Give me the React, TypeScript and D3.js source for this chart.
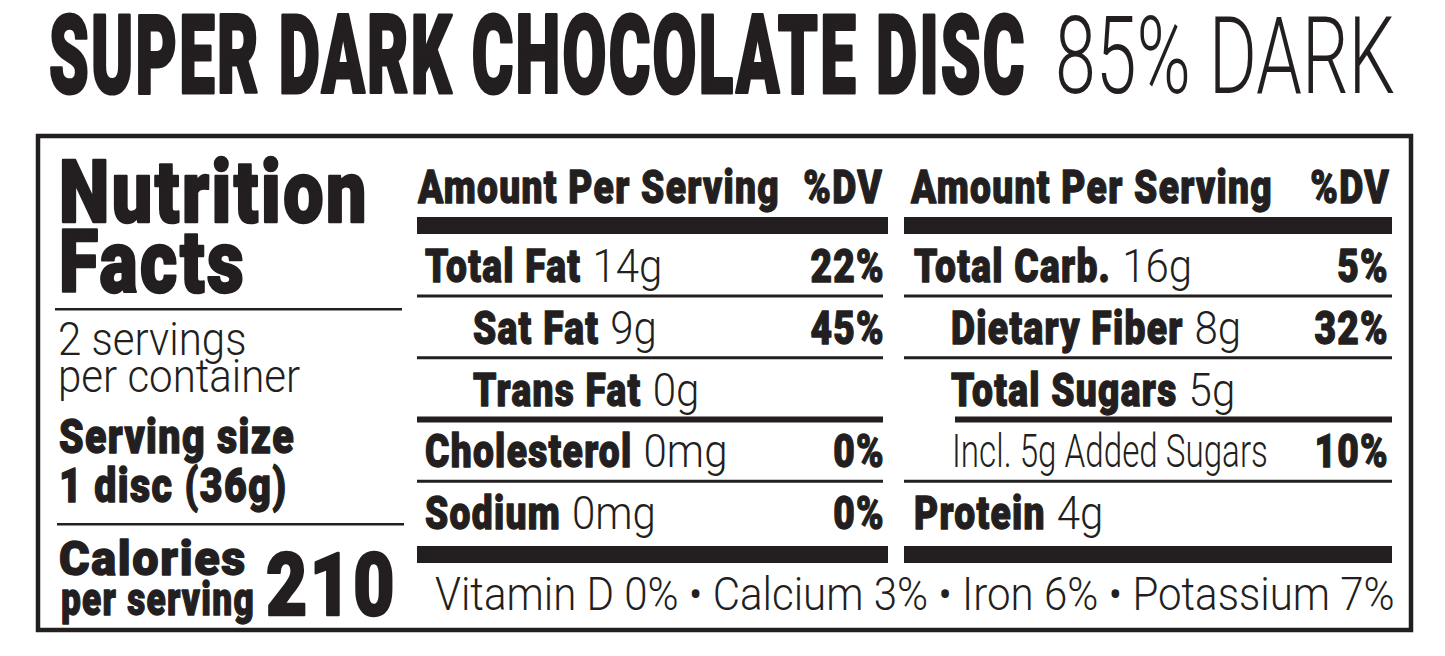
import React, { useEffect, useRef } from "react";
import * as d3 from "d3";

// label values
const titleBold = "SUPER DARK CHOCOLATE DISC";
const titleLight = "85% DARK";
const servingsPer = ["2 servings", "per container"];
const servingSize = ["Serving size", "1 disc (36g)"];
const calories = "210";
const headers = ["Amount Per Serving", "%DV"];

const leftNames = ["Total Fat", "Sat Fat", "Trans Fat", "Cholesterol", "Sodium"];
const leftAmounts = ["14g", "9g", "0g", "0mg", "0mg"];
const leftDV = ["22%", "45%", "", "0%", "0%"];
const leftSub = [false, true, true, false, false];

const rightNames = ["Total Carb.", "Dietary Fiber", "Total Sugars", "Incl. 5g Added Sugars", "Protein"];
const rightAmounts = ["16g", "8g", "5g", "", "4g"];
const rightDV = ["5%", "32%", "", "10%", ""];
const rightSub = [false, true, true, true, false];
const rightPlain = [false, false, false, true, false];

const vitamins = ["Vitamin D", "Calcium", "Iron", "Potassium"];
const vitaminDV = ["0%", "3%", "6%", "7%"];

const INK = "#231f20";
const FONT = "Roboto, 'Liberation Sans', Arial, sans-serif";

const App: React.FC = () => {
  const ref = useRef<SVGSVGElement | null>(null);

  useEffect(() => {
    document.body.style.margin = "0";

    const draw = () => {
      const svg = d3.select(ref.current);
      svg.selectAll("*").remove();
      const g = svg.append("g");

      const spacing = (size: number, weight: number) => (weight >= 700 ? size * 0.035 : 0);

      const measure = (text: string, size: number, weight: number) => {
        const t = g
          .append("text")
          .attr("font-family", FONT)
          .attr("font-size", size)
          .attr("font-weight", weight)
          .attr("letter-spacing", spacing(size, weight))
          .text(text);
        const w = (t.node() as SVGTextElement).getComputedTextLength();
        t.remove();
        return w;
      };

      // heavy text gets a thin outline so it reads as a black weight
      const put = (
        text: string,
        x: number,
        y: number,
        size: number,
        weight: number,
        sx: number,
        anchor = "start",
        sy = 1
      ) => {
        const t = g
          .append("text")
          .attr("transform", `translate(${x},${y}) scale(${sx},${sy})`)
          .attr("font-family", FONT)
          .attr("font-size", size)
          .attr("font-weight", weight)
          .attr("letter-spacing", spacing(size, weight))
          .attr("text-anchor", anchor)
          .attr("fill", INK)
          .text(text);
        if (weight >= 700) {
          t.attr("stroke", INK).attr("stroke-width", size * 0.028).attr("stroke-linejoin", "round");
        }
        return (t.node() as SVGTextElement).getComputedTextLength() * sx;
      };

      const bar = (x0: number, x1: number, y: number, h: number) =>
        g.append("rect").attr("x", x0).attr("y", y).attr("width", x1 - x0).attr("height", h).attr("fill", INK);

      // condensing factors, fitted on one string of each style
      const vitText = vitamins.map((v, i) => `${v} ${vitaminDV[i]}`).join(" • ");
      const sxBold = 362 / measure(headers[0], 46, 900);
      const sxLight = 960 / measure(vitText, 46, 300);

      // title
      put(titleBold, 49, 93, 100, 900, 978 / measure(titleBold, 100, 900), "start", 1.1);
      put(titleLight, 1055, 93, 100, 300, 340 / measure(titleLight, 100, 300), "start", 1.07);

      // outer box
      g.append("rect")
        .attr("x", 38)
        .attr("y", 136)
        .attr("width", 1373)
        .attr("height", 494)
        .attr("fill", "none")
        .attr("stroke", INK)
        .attr("stroke-width", 4.5);

      // left panel
      const sxNF = 310 / measure("Nutrition", 87, 900);
      put("Nutrition", 59, 222, 87, 900, sxNF);
      put("Facts", 59, 292, 87, 900, sxNF);
      bar(55, 402, 308, 2.5);
      put(servingsPer[0], 58, 355, 46, 300, sxLight);
      put(servingsPer[1], 58, 392, 46, 300, sxLight);
      const sxSS = 236 / measure(servingSize[0], 49, 900);
      put(servingSize[0], 59, 453, 49, 900, sxSS);
      put(servingSize[1], 59, 502, 49, 900, sxSS);
      bar(57, 404, 523, 2.5);
      put("Calories", 59, 575, 49, 900, 188 / measure("Calories", 49, 900));
      put("per serving", 61, 615, 46, 900, 194 / measure("per serving", 46, 900));
      put(calories, 397, 615, 87, 900, 131 / measure(calories, 87, 900), "end");

      // nutrient columns
      const yRow = d3.scaleLinear().domain([0, 4]).range([282, 529]);
      const sxIncl = 316 / measure(rightNames[3], 46, 300);
      const cols = [
        {
          x0: 417, x1: 888, ruleEnd: 883, headX: 418, headDvX: 883,
          labelX: 425, subX: 473, dvX: 885, midRule: 2, midRuleX: 417,
          names: leftNames, amounts: leftAmounts, dv: leftDV, sub: leftSub,
          plain: leftNames.map(() => false),
        },
        {
          x0: 904, x1: 1392, ruleEnd: 1392, headX: 911, headDvX: 1390,
          labelX: 914, subX: 951, dvX: 1389, midRule: 2, midRuleX: 955,
          names: rightNames, amounts: rightAmounts, dv: rightDV, sub: rightSub,
          plain: rightPlain,
        },
      ];

      cols.forEach((c) => {
        put(headers[0], c.headX, 203, 46, 900, sxBold);
        put(headers[1], c.headDvX, 203, 46, 900, sxBold, "end");
        bar(c.x0, c.x1, 217, 17);

        c.names.forEach((name, i) => {
          const y = yRow(i);
          const x = c.sub[i] ? c.subX : c.labelX;
          if (c.plain[i]) {
            put(name, x + 1, y, 46, 300, sxIncl);
          } else {
            const w = put(name, x, y, 46, 900, sxBold);
            if (c.amounts[i]) put(c.amounts[i], x + w + 11, y, 46, 300, sxLight);
          }
          if (c.dv[i]) put(c.dv[i], c.dvX, y, 46, 900, sxBold, "end");
          if (i < c.names.length - 1) {
            const thick = i === c.midRule ? 6 : 3;
            const start = i === c.midRule ? c.midRuleX : c.x0;
            bar(start, c.ruleEnd, y + 14 - thick / 2, thick);
          }
        });

        bar(c.x0, c.x1, yRow(4) + 17, 17);
      });

      put(vitText, 435, 610, 46, 300, sxLight);
    };

    if (document.fonts && document.fonts.ready) document.fonts.ready.then(draw);
    else draw();
  }, []);

  return <svg ref={ref} width={1445} height={656} style={{ display: "block", background: "#fff" }} />;
};

export default App;
